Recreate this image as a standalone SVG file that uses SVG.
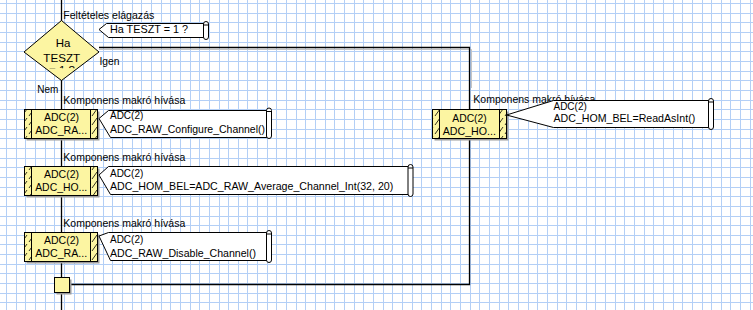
<svg xmlns="http://www.w3.org/2000/svg" width="753" height="310" viewBox="0 0 753 310">
<defs>
<style>
text{font-family:"Liberation Sans",Arial,sans-serif;font-size:11.5px;fill:#000}
.c{text-anchor:middle}
.ln{stroke:#000;stroke-width:1.3;fill:none}
.box{fill:#fcf5a2;stroke:#000;stroke-width:1}
.sh{fill:#9c9c9c}
.bar{fill:url(#hatch);stroke:#000;stroke-width:1}
.call{fill:#fff;stroke:#000;stroke-width:1}
.grid{stroke:#b3cff6;stroke-width:1;fill:none}
</style>
<pattern id="hatch" width="7" height="9" patternUnits="userSpaceOnUse">
<rect width="7" height="9" fill="#fcf5a2"/>
<path d="M1 8L6 1" stroke="#000" stroke-width="0.8"/>
</pattern>
<clipPath id="dclip"><rect x="20" y="20" width="84" height="48.3"/></clipPath>
</defs>
<rect width="753" height="310" fill="#fff"/>
<path class="grid" d="M6.5 0v310M16.5 0v310M25.5 0v310M35.5 0v310M45.5 0v310M54.5 0v310M64.5 0v310M74.5 0v310M83.5 0v310M93.5 0v310M103.5 0v310M112.5 0v310M122.5 0v310M132.5 0v310M141.5 0v310M151.5 0v310M161.5 0v310M170.5 0v310M180.5 0v310M190.5 0v310M199.5 0v310M209.5 0v310M219.5 0v310M228.5 0v310M238.5 0v310M247.5 0v310M257.5 0v310M267.5 0v310M276.5 0v310M286.5 0v310M296.5 0v310M305.5 0v310M315.5 0v310M325.5 0v310M334.5 0v310M344.5 0v310M354.5 0v310M363.5 0v310M373.5 0v310M383.5 0v310M392.5 0v310M402.5 0v310M412.5 0v310M421.5 0v310M431.5 0v310M441.5 0v310M450.5 0v310M460.5 0v310M470.5 0v310M479.5 0v310M489.5 0v310M499.5 0v310M508.5 0v310M518.5 0v310M528.5 0v310M537.5 0v310M547.5 0v310M557.5 0v310M566.5 0v310M576.5 0v310M586.5 0v310M595.5 0v310M605.5 0v310M615.5 0v310M624.5 0v310M634.5 0v310M644.5 0v310M653.5 0v310M663.5 0v310M673.5 0v310M682.5 0v310M692.5 0v310M702.5 0v310M711.5 0v310M721.5 0v310M730.5 0v310M740.5 0v310M750.5 0v310M0 3.5h753M0 13.5h753M0 22.5h753M0 32.5h753M0 42.5h753M0 51.5h753M0 61.5h753M0 71.5h753M0 80.5h753M0 90.5h753M0 100.5h753M0 109.5h753M0 119.5h753M0 129.5h753M0 138.5h753M0 148.5h753M0 158.5h753M0 167.5h753M0 177.5h753M0 187.5h753M0 196.5h753M0 206.5h753M0 216.5h753M0 225.5h753M0 235.5h753M0 244.5h753M0 254.5h753M0 264.5h753M0 273.5h753M0 283.5h753M0 293.5h753M0 302.5h753"/>

<g id="connectors">
<path d="M99 49.5H471.5V88" stroke="#c4c4c4" stroke-width="1" fill="none"/>
<path class="ln" d="M61.5 0V310"/>
<path class="ln" d="M99 47.5H469.5V284.5H69"/>
<text x="63.3" y="19" textLength="91" lengthAdjust="spacingAndGlyphs">Feltételes elágazás</text>
<text x="99.5" y="65" textLength="20" lengthAdjust="spacingAndGlyphs">Igen</text>
<text x="37.3" y="93.3" textLength="21" lengthAdjust="spacingAndGlyphs">Nem</text>
</g>

<g id="decision">
<polygon points="61.5,20.5 99,52 61.5,80.5 24,52" fill="#fcf5a2" stroke="#000" stroke-width="1"/>
<text class="c" x="63" y="47.3">Ha</text>
<text class="c" x="61.7" y="61.7" textLength="36.7" lengthAdjust="spacingAndGlyphs">TESZT</text>
<text class="c" x="62" y="74.3" clip-path="url(#dclip)">= 1 ?</text>
</g>

<g id="comment-teszt">
<polygon class="call" points="99,29.5 106.5,23.5 204,23.5 204,37.5 108.5,37.5"/>
<rect class="call" x="203.5" y="21.5" width="5" height="18" rx="2.5"/>
<line x1="203.5" y1="25" x2="208.5" y2="25" stroke="#000"/>
<text x="110" y="33.3" textLength="78" lengthAdjust="spacingAndGlyphs">Ha TESZT = 1 ?</text>
</g>

<g id="node-configure">
<text x="63.3" y="104" textLength="122" lengthAdjust="spacingAndGlyphs">Komponens makró hívása</text>
<rect class="sh" x="26.5" y="111.5" width="73" height="29"/>
<rect class="box" x="24.5" y="109.5" width="73" height="29"/>
<rect class="bar" x="24.5" y="109.5" width="7" height="29"/>
<rect class="bar" x="90.5" y="109.5" width="7" height="29"/>
<text class="c" x="61.5" y="121" textLength="35" lengthAdjust="spacingAndGlyphs">ADC(2)</text>
<text class="c" x="61.2" y="134" textLength="52" lengthAdjust="spacingAndGlyphs">ADC_RA...</text>
</g>
<g id="comment-configure">
<polygon class="call" points="99,118.5 108.5,110.5 267,110.5 267,137.5 110.5,137.5"/>
<rect class="call" x="266.5" y="108" width="5" height="30.5" rx="2.5"/>
<line x1="266.5" y1="111.5" x2="271.5" y2="111.5" stroke="#000"/>
<text x="110" y="119" textLength="33.3" lengthAdjust="spacingAndGlyphs">ADC(2)</text>
<text x="110" y="133.3" textLength="155" lengthAdjust="spacingAndGlyphs">ADC_RAW_Configure_Channel()</text>
</g>

<g id="node-average">
<text x="63.3" y="161" textLength="122" lengthAdjust="spacingAndGlyphs">Komponens makró hívása</text>
<rect class="sh" x="26.5" y="168.5" width="73" height="29"/>
<rect class="box" x="24.5" y="166.5" width="73" height="29"/>
<rect class="bar" x="24.5" y="166.5" width="7" height="29"/>
<rect class="bar" x="90.5" y="166.5" width="7" height="29"/>
<text class="c" x="61.5" y="178.3" textLength="35" lengthAdjust="spacingAndGlyphs">ADC(2)</text>
<text class="c" x="61.2" y="191" textLength="52" lengthAdjust="spacingAndGlyphs">ADC_HO...</text>
</g>
<g id="comment-average">
<polygon class="call" points="99,175 108.5,166.5 408.5,166.5 408.5,194.5 110.5,194.5"/>
<rect class="call" x="408" y="164.5" width="5" height="32" rx="2.5"/>
<line x1="408" y1="168" x2="413" y2="168" stroke="#000"/>
<text x="110" y="176.7" textLength="33.3" lengthAdjust="spacingAndGlyphs">ADC(2)</text>
<text x="110" y="190" textLength="283.3" lengthAdjust="spacingAndGlyphs">ADC_HOM_BEL=ADC_RAW_Average_Channel_Int(32, 20)</text>
</g>

<g id="node-disable">
<text x="63.3" y="227.3" textLength="122" lengthAdjust="spacingAndGlyphs">Komponens makró hívása</text>
<rect class="sh" x="26.5" y="234.5" width="73" height="29"/>
<rect class="box" x="24.5" y="232.5" width="73" height="29"/>
<rect class="bar" x="24.5" y="232.5" width="7" height="29"/>
<rect class="bar" x="90.5" y="232.5" width="7" height="29"/>
<text class="c" x="61.5" y="244.3" textLength="35" lengthAdjust="spacingAndGlyphs">ADC(2)</text>
<text class="c" x="61.2" y="257.3" textLength="52" lengthAdjust="spacingAndGlyphs">ADC_RA...</text>
</g>
<g id="comment-disable">
<polygon class="call" points="99,236 108.5,232.5 267,232.5 267,260.5 110.5,260.5"/>
<rect class="call" x="266.5" y="230.5" width="5" height="32" rx="2.5"/>
<line x1="266.5" y1="234" x2="271.5" y2="234" stroke="#000"/>
<text x="110" y="243.3" textLength="33.3" lengthAdjust="spacingAndGlyphs">ADC(2)</text>
<text x="110" y="256.7" textLength="146" lengthAdjust="spacingAndGlyphs">ADC_RAW_Disable_Channel()</text>
</g>

<g id="node-readasint">
<text x="473.3" y="103.3" textLength="122" lengthAdjust="spacingAndGlyphs">Komponens makró hívása</text>
<rect class="sh" x="434.5" y="111.5" width="74" height="29"/>
<rect class="box" x="432.5" y="109.5" width="74" height="29"/>
<rect class="bar" x="432.5" y="109.5" width="7" height="29"/>
<rect class="bar" x="499.5" y="109.5" width="7" height="29"/>
<text class="c" x="469.5" y="121.7" textLength="34.4" lengthAdjust="spacingAndGlyphs">ADC(2)</text>
<text class="c" x="469.3" y="135" textLength="53.3" lengthAdjust="spacingAndGlyphs">ADC_HO...</text>
</g>
<g id="comment-readasint">
<polygon class="call" points="506.5,115 553.5,100.5 709,100.5 709,127.5 553.5,127.5"/>
<rect class="call" x="708.5" y="98.5" width="5" height="31" rx="2.5"/>
<line x1="708.5" y1="102" x2="713.5" y2="102" stroke="#000"/>
<text x="553.5" y="110" textLength="33.3" lengthAdjust="spacingAndGlyphs">ADC(2)</text>
<text x="553.5" y="122.3" textLength="141.7" lengthAdjust="spacingAndGlyphs">ADC_HOM_BEL=ReadAsInt()</text>
</g>

<g id="merge">
<rect class="sh" x="56.5" y="279.5" width="15" height="15"/>
<rect class="box" x="54.5" y="277.5" width="15" height="15"/>
</g>
</svg>
